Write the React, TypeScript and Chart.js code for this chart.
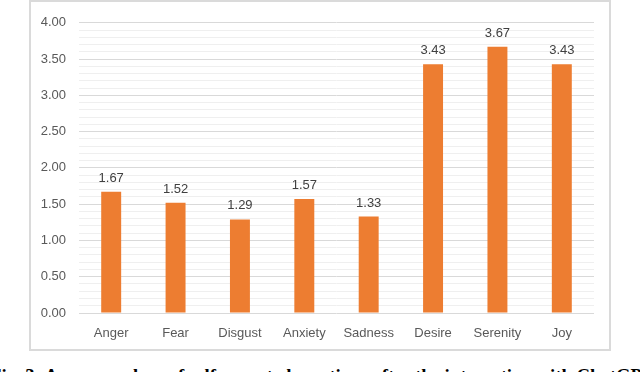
import React, { useEffect, useRef } from "react";
import { Chart, registerables } from "chart.js";

Chart.register(...registerables);

const categories = ["Anger", "Fear", "Disgust", "Anxiety", "Sadness", "Desire", "Serenity", "Joy"];
const values = [1.67, 1.52, 1.29, 1.57, 1.33, 3.43, 3.67, 3.43];
const yMin = 0;
const yMax = 4;
const yStep = 0.1;
const captionText = "Fig. 3: Average values of self-reported emotions after the interaction with ChatGPT";

const FONT = "'Liberation Sans', Arial, sans-serif";

const dataLabelPlugin = {
  id: "dataLabels",
  afterDatasetsDraw(chart: any) {
    const ctx = chart.ctx;
    const meta = chart.getDatasetMeta(0);
    ctx.save();
    ctx.font = `13px ${FONT}`;
    ctx.fillStyle = "#404040";
    ctx.textAlign = "center";
    ctx.textBaseline = "alphabetic";
    meta.data.forEach((bar: any, i: number) => {
      const v = chart.data.datasets[0].data[i] as number;
      ctx.fillText(v.toFixed(2), bar.x, bar.y - 10);
    });
    ctx.restore();
  },
};

export default function App() {
  const ref = useRef<HTMLCanvasElement>(null);
  useEffect(() => {
    if (!ref.current) return;
    const isMajor = (v: number) => Math.abs(v * 2 - Math.round(v * 2)) < 1e-6;
    const chart = new Chart(ref.current, {
      type: "bar",
      data: {
        labels: categories,
        datasets: [
          {
            data: values,
            backgroundColor: "#ED7D31",
            borderWidth: 0,
            barPercentage: 0.62,
            categoryPercentage: 0.5,
          },
        ],
      },
      options: {
        animation: false,
        responsive: false,
        maintainAspectRatio: false,
        layout: { padding: { left: 0, right: 15, top: 17, bottom: 0 } },
        plugins: { legend: { display: false }, tooltip: { enabled: false } },
        scales: {
          x: {
            grid: { display: false, drawTicks: false },
            border: { display: false },
            ticks: { color: "#595959", font: { family: FONT, size: 13 }, padding: 13 },
            afterFit(scale: any) {
              scale.height = 36;
            },
          },
          y: {
            min: yMin,
            max: yMax,
            ticks: {
              stepSize: yStep,
              autoSkip: false,
              color: "#595959",
              font: { family: FONT, size: 13 },
              padding: 13,
              callback: (v: any) => (isMajor(Number(v)) ? Number(v).toFixed(2) : ""),
            },
            grid: {
              drawTicks: false,
              color: (c: any) => (isMajor(c.tick.value) ? "#d9d9d9" : "#efefef"),
              lineWidth: 1,
            },
            border: { display: false },
            afterFit(scale: any) {
              scale.width = 48;
            },
          },
        },
      },
      plugins: [dataLabelPlugin],
    });
    return () => chart.destroy();
  }, []);

  return (
    <div style={{ position: "absolute", left: 0, top: 0, width: 640, height: 372, overflow: "hidden", background: "#fff" }}>
      <div
        style={{
          position: "absolute",
          left: 29,
          top: 0,
          width: 578,
          height: 347,
          border: "2px solid #dadada",
          background: "#fff",
        }}
      >
        <canvas ref={ref} width={578} height={347} style={{ display: "block" }} />
      </div>
      <div
        style={{
          position: "absolute",
          left: -10,
          top: 365,
          whiteSpace: "nowrap",
          fontFamily: "'Liberation Serif', 'Times New Roman', serif",
          fontSize: 18.7,
          fontWeight: "bold",
          color: "#000",
          lineHeight: "22px",
        }}
      >
        {captionText}
      </div>
    </div>
  );
}
